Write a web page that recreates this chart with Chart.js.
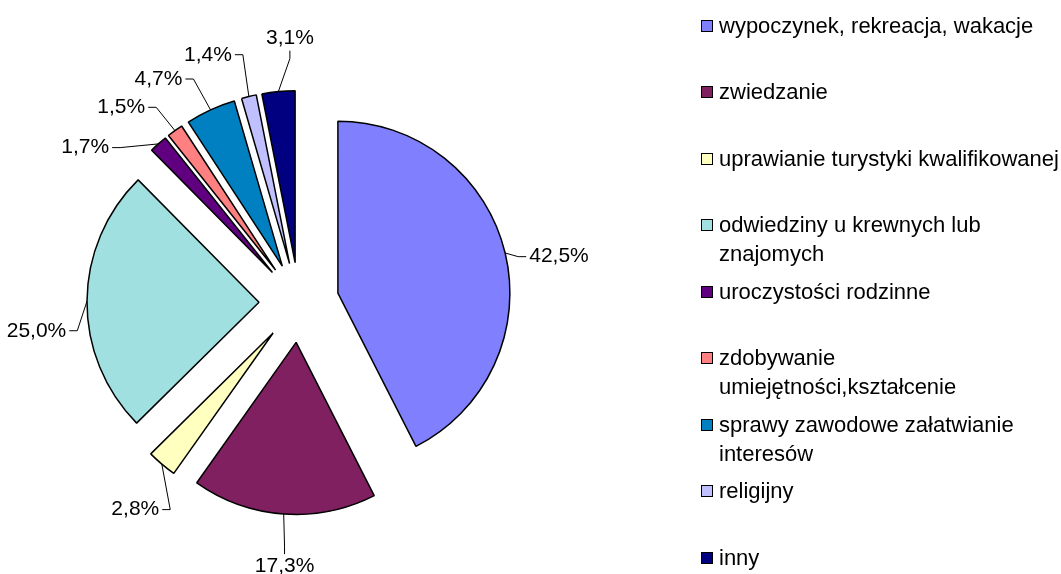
<!DOCTYPE html>
<html>
<head>
<meta charset="utf-8">
<script src="https://cdn.jsdelivr.net/npm/chart.js@4"></script>
<style>
  body { margin: 0; background: #fff; font-family: "Liberation Sans", Arial, sans-serif; }
  #wrap { position: relative; width: 1061px; height: 574px; }
  #legend { position: absolute; left: 701px; top: 0; }
  .item { position: absolute; left: 0; width: 360px; display: flex; font-size: 22px; line-height: 29px; color: #000; }
  .box { flex: none; width: 10px; height: 10px; border: 1px solid #000; margin: 9px 6px 0 0; }
</style>
</head>
<body>
<div id="wrap">
  <canvas id="chart" width="1061" height="574"></canvas>
  <div id="legend"></div>
</div>
<script>
let labels = [
  "wypoczynek, rekreacja, wakacje",
  "zwiedzanie",
  "uprawianie turystyki kwalifikowanej",
  "odwiedziny u krewnych lub znajomych",
  "uroczystości rodzinne",
  "zdobywanie umiejętności,kształcenie",
  "sprawy zawodowe załatwianie interesów",
  "religijny",
  "inny"
];
let values = [42.5, 17.3, 2.8, 25.0, 1.7, 1.5, 4.7, 1.4, 3.1];
let colors = ["#8080ff", "#802060", "#ffffc0", "#a0e0e0", "#600080", "#ff8080", "#0080c0", "#c0c0ff", "#000080"];

// label placement: angle nudge (degrees, clockwise) away from the slice middle
let labelShift = [3.5, -1, -2, -6.5, -12.5, -6.5, -7.5, -6.5, 3.6];
const labelRadius = 264;
const explode = 40;

// pull every slice out by the same distance (chart.js own offset also
// grows the radius and trims the angle, so do the move here instead)
const explodeSlices = {
  id: "explodeSlices",
  beforeDatasetsDraw(chart) {
    chart.getDatasetMeta(0).data.forEach(arc => {
      if (arc._exploded) return;
      arc._exploded = true;
      arc.draw = function (ctx) {
        const mid = (this.startAngle + this.endAngle) / 2;
        ctx.save();
        ctx.translate(Math.cos(mid) * explode, Math.sin(mid) * explode);
        Chart.ArcElement.prototype.draw.call(this, ctx);
        ctx.restore();
      };
    });
  }
};

const pieLabels = {
  id: "pieLabels",
  afterDatasetsDraw(chart) {
    const c = chart.ctx;
    const meta = chart.getDatasetMeta(0);
    c.save();
    c.font = '21px "Liberation Sans", Arial, sans-serif';
    c.textBaseline = "middle";
    c.textAlign = "center";
    c.strokeStyle = "#000";
    c.fillStyle = "#000";
    c.lineWidth = 1;
    meta.data.forEach((arc, i) => {
      const p = arc.getProps(["x", "y", "startAngle", "endAngle", "outerRadius"], true);
      const mid = (p.startAngle + p.endAngle) / 2;
      const ax = p.x + Math.cos(mid) * (explode + p.outerRadius);
      const ay = p.y + Math.sin(mid) * (explode + p.outerRadius);
      const la = mid + labelShift[i] * Math.PI / 180;
      const lx = p.x + Math.cos(la) * labelRadius;
      const ly = p.y + Math.sin(la) * labelRadius;
      const text = values[i].toFixed(1).replace(".", ",") + "%";
      const w = c.measureText(text).width;
      let sx, sy, ex, ey;
      if (Math.abs(Math.cos(la)) > 0.25) {
        const side = Math.cos(la) > 0 ? -1 : 1;
        sx = lx + side * (w / 2 + 3); sy = ly;
        ex = sx + side * 8; ey = ly;
      } else {
        const side = Math.sin(la) > 0 ? -1 : 1;
        sx = lx; sy = ly + side * 12;
        ex = lx; ey = sy + side * 8;
      }
      c.beginPath();
      c.moveTo(sx, sy);
      c.lineTo(ex, ey);
      c.lineTo(ax, ay);
      c.stroke();
      c.fillText(text, lx, ly);
    });
    c.restore();
  }
};

new Chart(document.getElementById("chart").getContext("2d"), {
  type: "pie",
  data: {
    labels: labels,
    datasets: [
      {
        data: values,
        backgroundColor: colors,
        borderColor: "#000",
        borderWidth: 1.5
      }
    ]
  },
  options: {
    responsive: false,
    animation: false,
    events: [],
    radius: 172,
    layout: { padding: { left: 0, right: 463, top: 31, bottom: 0 } },
    plugins: { legend: { display: false }, tooltip: { enabled: false } }
  },
  plugins: [explodeSlices, pieLabels]
});

const legend = document.getElementById("legend");
labels.forEach((t, i) => {
  const item = document.createElement("div");
  item.className = "item";
  item.style.top = (25 + i * 66.5 - 14.5) + "px";
  const box = document.createElement("span");
  box.className = "box";
  box.style.background = colors[i];
  const txt = document.createElement("span");
  txt.textContent = t;
  item.appendChild(box);
  item.appendChild(txt);
  legend.appendChild(item);
});
</script>
</body>
</html>
